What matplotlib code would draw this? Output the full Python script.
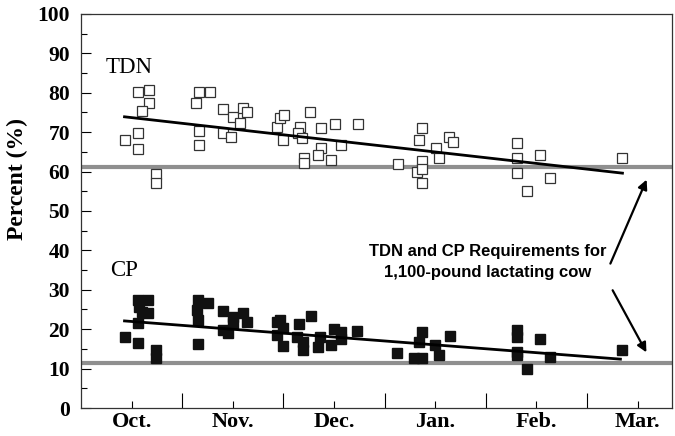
import matplotlib
matplotlib.use("Agg")
import matplotlib.pyplot as plt
import numpy as np

# x values are in months from Oct. 1
months = ["Oct.", "Nov.", "Dec.", "Jan.", "Feb.", "Mar."]

tdn_x = [0.43, 0.56, 0.56, 0.56, 0.67, 0.67, 0.60, 0.74, 0.74,
         1.14, 1.17, 1.27, 1.17, 1.17, 1.40, 1.40, 1.48, 1.50, 1.57, 1.60, 1.64,
         1.94, 1.97, 2.01, 2.00, 2.16, 2.14, 2.18, 2.26, 2.37, 2.37, 2.34, 2.20, 2.20,
         2.47, 2.51, 2.57, 2.74, 3.13, 3.37, 3.34, 3.37, 3.32, 3.37, 3.37, 3.51, 3.54,
         3.64, 3.68, 4.31, 4.31, 4.31, 4.54, 4.41, 4.63, 5.35]
tdn_y = [68.0, 69.8, 65.7, 80.2, 80.7, 77.4, 75.4, 59.4, 57.1,
         77.4, 80.2, 80.2, 70.3, 66.8, 75.9, 69.8, 68.8, 73.9, 72.3, 76.1, 75.1,
         71.3, 73.6, 74.4, 68.0, 71.3, 69.8, 68.5, 75.1, 71.1, 66.0, 64.2, 63.5, 62.2,
         62.9, 72.1, 66.8, 72.1, 61.9, 71.1, 68.0, 62.7, 59.9, 60.7, 57.1, 66.0, 63.5,
         68.8, 67.5, 67.3, 63.5, 59.6, 64.2, 55.1, 58.4, 63.5]

cp_x = [0.43, 0.56, 0.66, 0.57, 0.60, 0.66, 0.56, 0.56, 0.74, 0.74,
        1.16, 1.25, 1.15, 1.16, 1.16, 1.40, 1.40, 1.45, 1.50, 1.50, 1.60, 1.64,
        1.94, 1.94, 1.97, 2.00, 2.00, 2.15, 2.27, 2.13, 2.19, 2.19, 2.36, 2.34,
        2.47, 2.50, 2.57, 2.57, 2.73, 3.12, 3.37, 3.34, 3.29, 3.37, 3.50, 3.54,
        3.65, 4.31, 4.31, 4.31, 4.31, 4.54, 4.41, 4.63, 5.35]
cp_y = [18.0, 27.4, 27.4, 25.6, 24.4, 24.1, 21.6, 16.5, 14.7, 12.7,
        27.4, 26.6, 24.9, 22.3, 16.2, 24.6, 19.8, 19.0, 23.1, 21.6, 24.1, 21.8,
        21.8, 18.5, 22.3, 20.3, 15.7, 21.3, 23.4, 18.0, 16.8, 14.7, 18.0, 15.5,
        16.0, 20.1, 19.3, 17.5, 19.5, 14.0, 19.3, 16.8, 12.7, 12.7, 16.0, 13.5,
        18.3, 19.8, 18.0, 14.2, 13.5, 17.5, 9.9, 12.9, 14.7]

# trend lines (end points)
tdn_trend_x = [0.43, 5.35]
tdn_trend_y = [73.9, 59.6]
cp_trend_x = [0.43, 5.33]
cp_trend_y = [22.1, 12.4]

# requirements for 1,100-pound lactating cow
tdn_req = 61.2
cp_req = 11.4

serif = "Liberation Serif"
sans = "Liberation Sans"

fig = plt.figure(figsize=(6.75, 4.36), dpi=100)
ax = fig.add_axes([0.12, 0.0642, 0.8756, 0.9038])

ax.axhline(tdn_req, color="#8f8f8f", lw=3, zorder=1)
ax.axhline(cp_req, color="#8f8f8f", lw=3, zorder=1)

ax.plot(tdn_x, tdn_y, "s", ms=6.5, mfc="white", mec="#333333", mew=0.9, zorder=3)
ax.plot(cp_x, cp_y, "s", ms=6.5, mfc="#111111", mec="#111111", zorder=3)
ax.plot(tdn_trend_x, tdn_trend_y, color="black", lw=2, zorder=4)
ax.plot(cp_trend_x, cp_trend_y, color="black", lw=2, zorder=4)

ax.set_xlim(0, 5.84)
ax.set_ylim(0, 100)

ax.set_xticks([1, 2, 3, 4, 5])
ax.set_xticklabels([])
ax.set_xticks(np.arange(len(months)) + 0.5, minor=True)
ax.set_xticklabels(months, minor=True, fontfamily=serif, fontweight="bold", fontsize=16)
ax.tick_params(axis="x", which="major", direction="in", length=11, width=0.8)
ax.tick_params(axis="x", which="minor", direction="in", length=5, width=0.8, pad=3)

ax.set_yticks(np.arange(0, 101, 10))
ax.set_yticks(np.arange(5, 100, 10), minor=True)
ax.set_yticklabels([str(v) for v in range(0, 101, 10)], fontfamily=serif,
                   fontweight="bold", fontsize=15.5)
ax.tick_params(axis="y", which="major", direction="in", length=7, width=0.8, pad=8)
ax.tick_params(axis="y", which="minor", direction="in", length=4, width=0.8)

ax.set_ylabel("Percent (%)", fontfamily=serif, fontweight="bold", fontsize=17)
ax.yaxis.set_label_coords(-0.09, 0.58)

for s in ax.spines.values():
    s.set_linewidth(0.9)
    s.set_color("#333333")

ax.text(0.48, 86.3, "TDN", fontfamily=serif, fontsize=16.5, ha="center", va="center")
ax.text(0.43, 35.0, "CP", fontfamily=serif, fontsize=16.5, ha="center", va="center")

ax.text(4.02, 37.0, "TDN and CP Requirements for\n1,100-pound lactating cow",
        fontfamily=sans, fontweight="bold", fontsize=12, ha="center", va="center",
        linespacing=1.5)
ax.annotate("", xy=(5.60, 58.6), xytext=(5.22, 36.0),
            arrowprops=dict(arrowstyle="-|>", color="black", lw=1.6, mutation_scale=14))
ax.annotate("", xy=(5.60, 13.5), xytext=(5.24, 30.5),
            arrowprops=dict(arrowstyle="-|>", color="black", lw=1.6, mutation_scale=14))

fig.savefig("out.png", dpi=100)
